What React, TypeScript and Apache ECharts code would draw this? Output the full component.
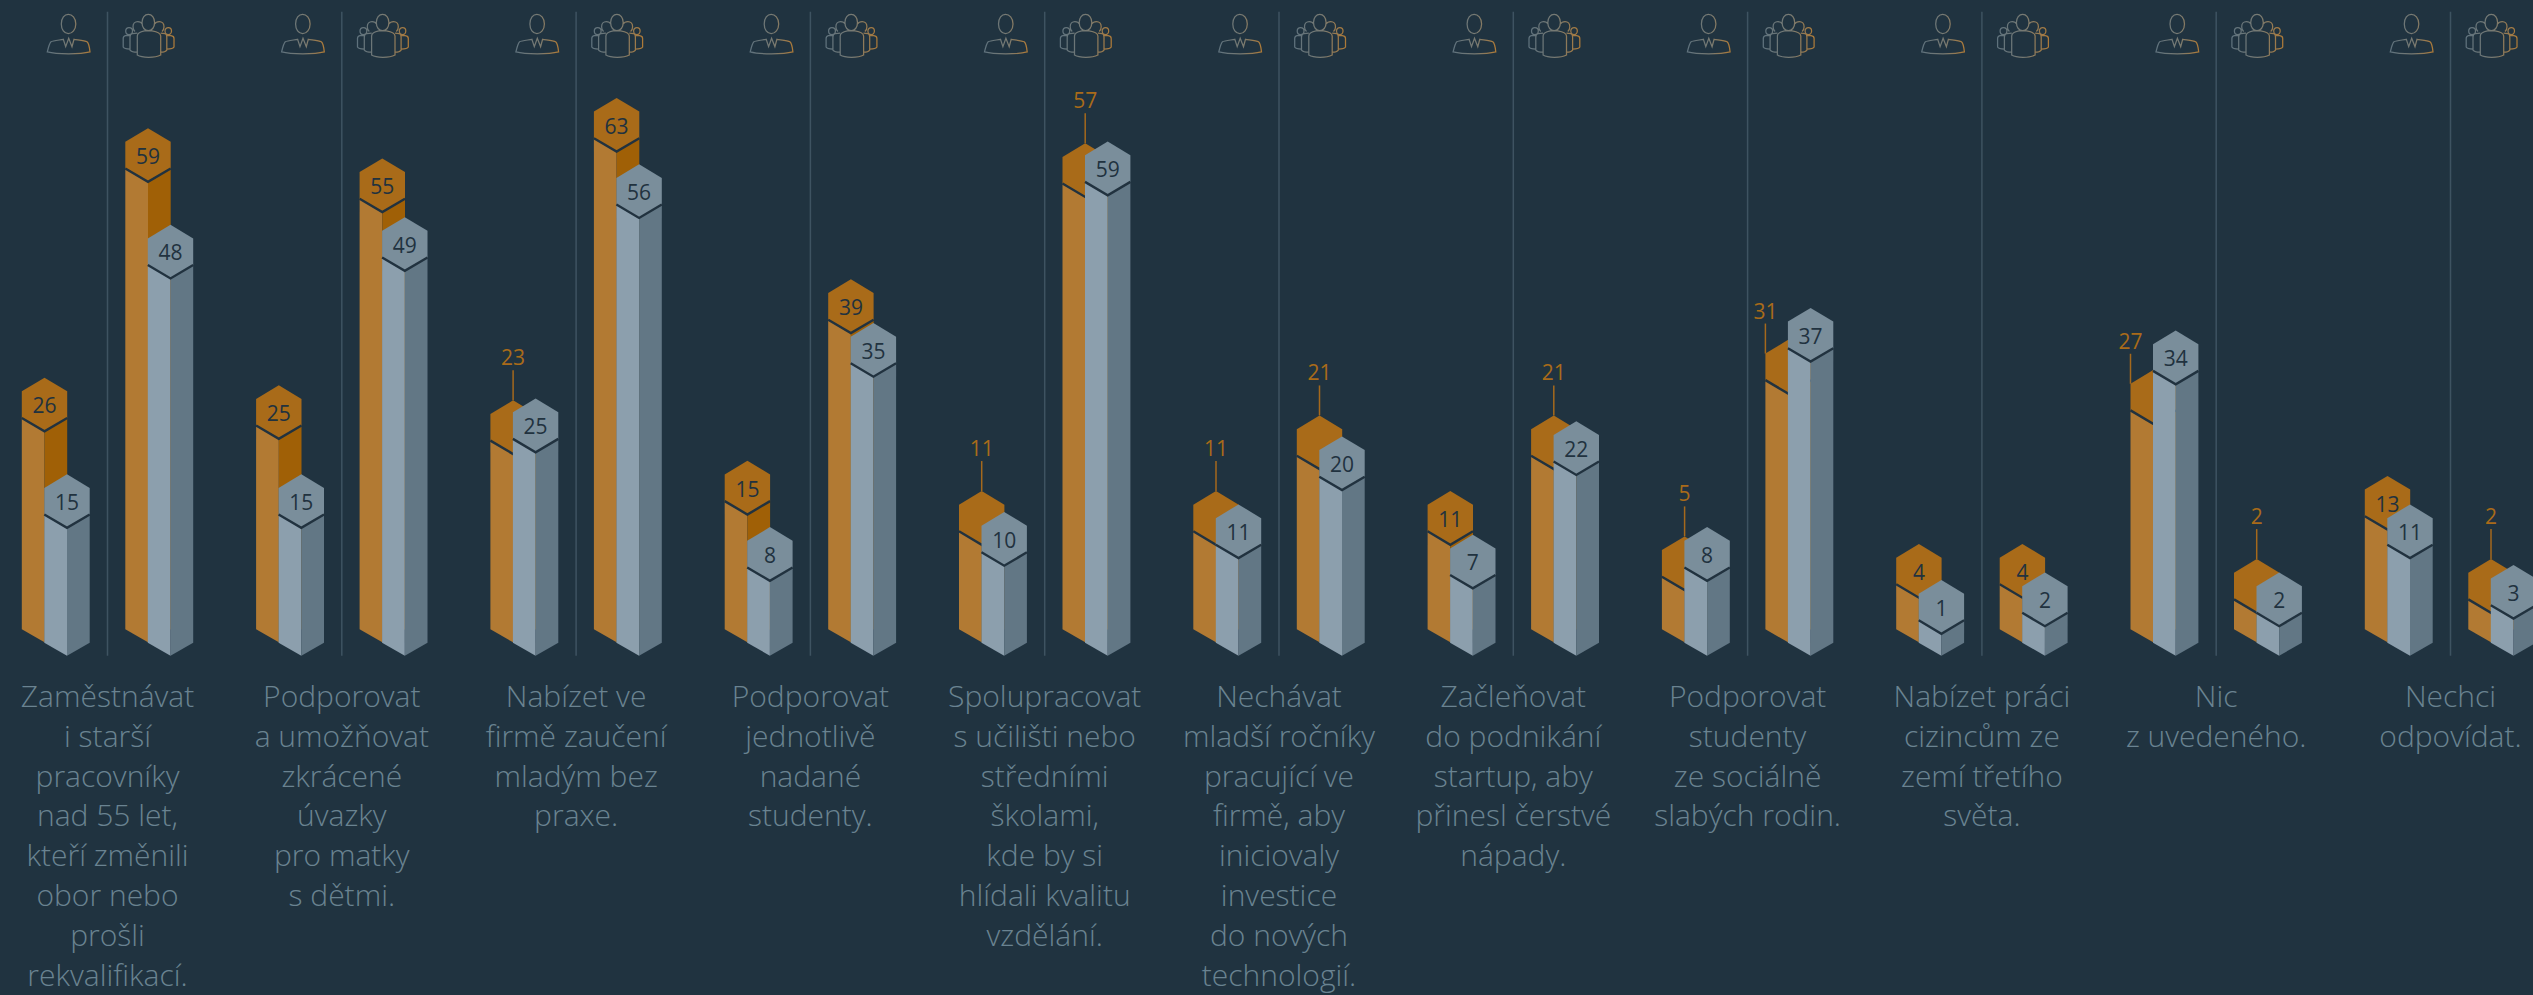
import React, { useEffect, useRef } from "react";
import * as echarts from "echarts";

const categories = [
  "Zaměstnávat\ni starší\npracovníky\nnad 55 let,\nkteří změnili\nobor nebo\nprošli\nrekvalifikací.",
  "Podporovat\na umožňovat\nzkrácené\núvazky\npro matky\ns dětmi.",
  "Nabízet ve\nfirmě zaučení\nmladým bez\npraxe.",
  "Podporovat\njednotlivě\nnadané\nstudenty.",
  "Spolupracovat\ns učilišti nebo\nstředními\nškolami,\nkde by si\nhlídali kvalitu\nvzdělání.",
  "Nechávat\nmladší ročníky\npracující ve\nfirmě, aby\niniciovaly\ninvestice\ndo nových\ntechnologií.",
  "Začleňovat\ndo podnikání\nstartup, aby\npřinesl čerstvé\nnápady.",
  "Podporovat\nstudenty\nze sociálně\nslabých rodin.",
  "Nabízet práci\ncizincům ze\nzemí třetího\nsvěta.",
  "Nic\nz uvedeného.",
  "Nechci\nodpovídat.",
];
const personOrange = [26, 25, 23, 15, 11, 11, 11, 5, 4, 27, 13];
const personGray = [15, 15, 25, 8, 10, 11, 7, 8, 1, 34, 11];
const teamOrange = [59, 55, 63, 39, 57, 21, 21, 31, 4, 2, 2];
const teamGray = [48, 49, 56, 35, 59, 20, 22, 37, 2, 2, 3];

const BG = "#203340";
const HW = 22.7;
const DARK = "#21323f";
const FONT = '"Open Sans", sans-serif';
const orangePal = { left: "#b27a33", right: "#a06006", top: "#a96b19" };
const grayPal = { left: "#8c9fad", right: "#627785", top: "#7a8e9b" };

const PERSON =
  "M61.3 24 C61.3 18 64.5 14.3 68.3 14.3 C72.1 14.3 75.8 18 75.8 24 C75.8 29.5 72.3 33.6 68.3 33.6 C64.3 33.6 61.3 29.5 61.3 24 Z " +
  "M47.3 52 C48.5 47 49.5 43 51 41.8 C53 40.8 60 40 63.3 39.3 L65.7 46.7 L68.7 38.3 L72 46.7 L74 39.3 C78 40 85 40.8 87 41.8 C88.5 43 89.5 47 90 52 C80 54.6 57 54.6 47.3 52 Z";
const TEAM =
  "M142 22.5 C142 17.5 144.8 14.3 148.3 14.3 C151.8 14.3 154.6 17.5 154.6 22.5 C154.6 27.5 151.8 30.7 148.3 30.7 C144.8 30.7 142 27.5 142 22.5 Z " +
  "M137.3 36 C137.3 33 141 31.5 144.5 30.8 L152 30.8 C156 31.5 160.7 33 160.7 36 L160.7 55 C155 58 142 58 137.3 55 Z " +
  "M133 26.7 C133 23.7 135 21.6 137.7 21.6 C139.7 21.6 141.5 22.6 142.2 24 M135 31.5 C133.7 30.5 133 28.7 133 26.7 " +
  "M154.6 24 C155.4 22.6 157 21.6 159.3 21.6 C162 21.6 164 23.7 164 26.7 C164 28.7 163.2 30.5 162 31.5 " +
  "M137.3 33 L132.5 33.5 C131 34 130 35 130 37 L130 50 C131.5 52 134 52.2 137.3 52.2 " +
  "M160.7 33 L165 33.5 C166 34 166.8 35 166.8 37 L166.8 50 C165.5 52 163 52.2 160.7 52.2 " +
  "M125.7 31 C125.7 29 127 27.5 129 27.5 C131 27.5 132.5 29 132.5 31 C132.5 33 131 34.6 129 34.6 C127 34.6 125.7 33 125.7 31 Z " +
  "M165 31 C165 29 166.5 27.5 168.3 27.5 C170 27.5 171.5 29 171.5 31 C171.5 33 170 34.6 168.3 34.6 C166.5 34.6 165 33 165 31 Z " +
  "M130 35.5 L125.5 35.7 C124 36 123.2 37 123.2 38.5 L123.2 47 C124 48.7 127 49 130 49 " +
  "M166.8 35.5 L171 35.7 C173 36 174 37 174 38.5 L174 47 C173.2 48.7 170 49 166.8 49";

const strokeGrad = () =>
  new echarts.graphic.LinearGradient(0, 0, 1, 0, [
    { offset: 0, color: "#5f727d" },
    { offset: 0.55, color: "#787a72" },
    { offset: 1, color: "#ad7a38" },
  ]);

function columnSeries(values: number[], other: number[], isOrange: boolean, dx: number) {
  const pal = isOrange ? orangePal : grayPal;
  const baseShift = isOrange ? -13.4 : 0;
  return {
    type: "custom",
    clip: false,
    data: values.map((v, i) => [i, v]),
    encode: { x: 0, y: 1 },
    renderItem: (params: any, api: any) => {
      const i = api.value(0);
      const v = api.value(1);
      const p = api.coord([i, v]);
      const p0 = api.coord([i, 0]);
      const cx = p[0] + dx;
      const F = p[1] + baseShift;
      const B = p0[1] + 14.4 + baseShift;
      const children: any[] = [
        { type: "polygon", shape: { points: [[cx - HW, F - 13.4], [cx, F], [cx, B], [cx - HW, B - 13]] }, style: { fill: pal.left } },
        { type: "polygon", shape: { points: [[cx + HW, F - 13.4], [cx, F], [cx, B], [cx + HW, B - 13]] }, style: { fill: pal.right } },
        { type: "polygon", shape: { points: [[cx, F - 53.7], [cx + HW, F - 40], [cx + HW, F - 13.4], [cx, F], [cx - HW, F - 13.4], [cx - HW, F - 40]] }, style: { fill: pal.top } },
        { type: "polyline", shape: { points: [[cx - HW, F - 13.4], [cx, F], [cx + HW, F - 13.4]] }, style: { fill: "none", stroke: DARK, lineWidth: 2.4 } },
      ];
      const gapToGray = isOrange ? v - other[i] : 99;
      if (gapToGray >= 2) {
        children.push({
          type: "text",
          style: { text: String(v), x: cx, y: F - 26, align: "center", verticalAlign: "middle", fill: DARK, font: `400 21px ${FONT}` },
        });
      } else {
        const hiddenApex = other[i] - v >= 4;
        const lx = hiddenApex ? cx - HW : cx;
        const ly = hiddenApex ? F - 40 : F - 53.7;
        children.push(
          { type: "line", shape: { x1: lx, y1: ly, x2: lx, y2: ly - 30 }, style: { stroke: "#a5691c", lineWidth: 1.5 } },
          { type: "text", style: { text: String(v), x: lx, y: ly - 43, align: "center", verticalAlign: "middle", fill: "#a96b19", font: `400 21px ${FONT}` } }
        );
      }
      return { type: "group", children };
    },
  };
}

export default function App() {
  const ref = useRef<HTMLDivElement>(null);
  useEffect(() => {
    document.body.style.margin = "0";
    document.body.style.background = BG;
    document.body.style.overflow = "hidden";
    const chart = echarts.init(ref.current!, null, { renderer: "svg" });
    chart.setOption({
      animation: false,
      backgroundColor: BG,
      grid: { left: -9.65, top: 36.5, width: 2577.3, height: 604.8, outerBoundsMode: "none" },
      xAxis: {
        type: "category",
        data: categories,
        axisLine: { show: false },
        axisTick: { show: false },
        splitLine: { show: false },
        axisLabel: {
          interval: 0,
          margin: 34,
          color: "#6a8391",
          fontSize: 30,
          fontWeight: 300,
          fontFamily: '"Open Sans", sans-serif',
          lineHeight: 39.9,
          align: "center",
          verticalAlign: "top",
        },
      },
      yAxis: { type: "value", min: 0, max: 80, show: false },
      series: [
        {
          type: "custom",
          clip: false,
          data: categories.map((_, i) => [i, 0]),
          encode: { x: 0, y: 1 },
          renderItem: (params: any, api: any) => {
            const x = api.coord([api.value(0), 0])[0];
            const ox = x - 107.5;
            return {
              type: "group",
              children: [
                { type: "line", shape: { x1: x, y1: 11.7, x2: x, y2: 655.7 }, style: { stroke: "#3e5361", lineWidth: 1.5 } },
                { type: "path", shape: { pathData: PERSON, x: ox + 47.3, y: 14.3, width: 42.7, height: 39.6, layout: "cover" }, style: { fill: "none", stroke: strokeGrad(), lineWidth: 1.25 } },
                { type: "path", shape: { pathData: TEAM, x: ox + 123.2, y: 14.3, width: 50.8, height: 43, layout: "cover" }, style: { fill: "none", stroke: strokeGrad(), lineWidth: 1.25 } },
              ],
            };
          },
        },
        columnSeries(personOrange, personGray, true, -63),
        columnSeries(personGray, personOrange, false, -40.5),
        columnSeries(teamOrange, teamGray, true, 40.5),
        columnSeries(teamGray, teamOrange, false, 63),
      ],
    });
    return () => chart.dispose();
  }, []);
  return <div ref={ref} style={{ width: 2533, height: 995, position: "absolute", left: 0, top: 0 }} />;
}
